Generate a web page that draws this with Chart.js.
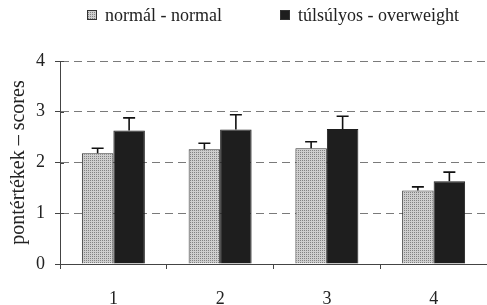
<!DOCTYPE html>
<html>
<head>
<meta charset="utf-8">
<script src="https://cdn.jsdelivr.net/npm/chart.js@4.4.0/dist/chart.umd.min.js"></script>
<style>
  html, body { margin: 0; padding: 0; background: #fff; }
  #wrap { width: 487px; height: 305px; }
</style>
</head>
<body>
<div id="wrap"><canvas id="chart" width="487" height="305"></canvas></div>
<script>
// data
const groups = ['1', '2', '3', '4'];
const normalScores = [2.18, 2.26, 2.28, 1.45];
const normalErr = [0.10, 0.12, 0.13, 0.07];
const overweightScores = [2.63, 2.65, 2.66, 1.63];
const overweightErr = [0.25, 0.29, 0.25, 0.18];
const yTicks = [0, 1, 2, 3, 4];

const serif = "'Liberation Serif', 'Times New Roman', serif";

// dotted grey fill like the print
function dotPattern() {
    const c = document.createElement('canvas');
    c.width = 2; c.height = 2;
    const g = c.getContext('2d');
    g.fillStyle = '#cecece';
    g.fillRect(0, 0, 2, 2);
    g.fillStyle = '#828282';
    g.fillRect(0, 0, 1, 1);
    return g.createPattern(c, 'repeat');
}
const grey = dotPattern();

// upward error whiskers with a cap
const errorBars = {
    id: 'errorBars',
    afterDatasetsDraw(chart) {
        const ctx = chart.ctx;
        const y = chart.scales.y;
        ctx.save();
        ctx.strokeStyle = '#111';
        ctx.lineWidth = 1.6;
        chart.data.datasets.forEach((ds, i) => {
            const meta = chart.getDatasetMeta(i);
            meta.data.forEach((bar, j) => {
                const top = y.getPixelForValue(ds.data[j] + ds.errors[j]);
                ctx.beginPath();
                ctx.moveTo(bar.x, bar.y);
                ctx.lineTo(bar.x, top);
                ctx.moveTo(bar.x - 6, top);
                ctx.lineTo(bar.x + 6, top);
                ctx.stroke();
            });
        });
        ctx.restore();
    }
};

// the print has y tick marks crossing the axis, add the inner half
const innerTicks = {
    id: 'innerTicks',
    afterDraw(chart) {
        const ctx = chart.ctx;
        const y = chart.scales.y;
        const x0 = chart.chartArea.left;
        ctx.save();
        ctx.strokeStyle = '#444';
        ctx.lineWidth = 1;
        y.ticks.forEach(t => {
            const py = Math.round(y.getPixelForValue(t.value)) + 0.5;
            ctx.beginPath();
            ctx.moveTo(x0, py);
            ctx.lineTo(x0 + 4, py);
            ctx.stroke();
        });
        ctx.restore();
    }
};

// legend drawn by hand so the two items sit where the print has them
const legendRow = {
    id: 'legendRow',
    afterDraw(chart) {
        const ctx = chart.ctx;
        const xs = [87, 280];
        ctx.save();
        ctx.font = '18px ' + serif;
        ctx.textBaseline = 'alphabetic';
        chart.data.datasets.forEach((ds, i) => {
            const x = xs[i];
            ctx.fillStyle = ds.backgroundColor;
            ctx.fillRect(x, 10, 10, 10);
            ctx.strokeStyle = '#333';
            ctx.lineWidth = 1;
            ctx.strokeRect(x + 0.5, 10.5, 9, 9);
            ctx.fillStyle = '#222';
            ctx.fillText(ds.label, x + 18, 21);
        });
        ctx.restore();
    }
};

new Chart(document.getElementById('chart'), {
    type: 'bar',
    data: {
        labels: groups,
        datasets: [
            {
                label: 'normál - normal',
                data: normalScores,
                errors: normalErr,
                backgroundColor: grey,
                borderColor: '#333',
                borderWidth: 1
            },
            {
                label: 'túlsúlyos - overweight',
                data: overweightScores,
                errors: overweightErr,
                backgroundColor: '#1e1e1e',
                borderColor: '#1e1e1e',
                borderWidth: 1
            }
        ]
    },
    options: {
        responsive: false,
        animation: false,
        layout: { padding: { top: 61, right: 0, bottom: 0, left: 0 } },
        categoryPercentage: 0.59,
        barPercentage: 1,
        plugins: {
            legend: { display: false },
            tooltip: { enabled: false }
        },
        scales: {
            x: {
                afterFit(scale) { scale.height = 41; },
                grid: {
                    drawOnChartArea: false,
                    tickLength: 5,
                    tickColor: '#444'
                },
                border: { color: '#444', width: 1 },
                ticks: {
                    color: '#222',
                    padding: 19,
                    font: { family: serif, size: 18 }
                }
            },
            y: {
                min: 0,
                max: 4,
                afterFit(scale) { scale.width = 60; },
                afterBuildTicks(scale) { scale.ticks = yTicks.map(v => ({ value: v })); },
                grid: {
                    color: ctx => ctx.tick && ctx.tick.value === 0 ? 'rgba(0,0,0,0)' : '#7a7a7a',
                    lineWidth: 1,
                    tickLength: 5,
                    tickColor: '#444'
                },
                border: { color: '#444', width: 1, dash: [8, 5] },
                ticks: {
                    color: '#222',
                    padding: 10,
                    font: { family: serif, size: 18 }
                },
                title: {
                    display: true,
                    text: 'pontértékek – scores',
                    color: '#222',
                    padding: { top: 7, bottom: 4 },
                    font: { family: serif, size: 20 }
                }
            }
        }
    },
    plugins: [errorBars, innerTicks, legendRow]
});
</script>
</body>
</html>
